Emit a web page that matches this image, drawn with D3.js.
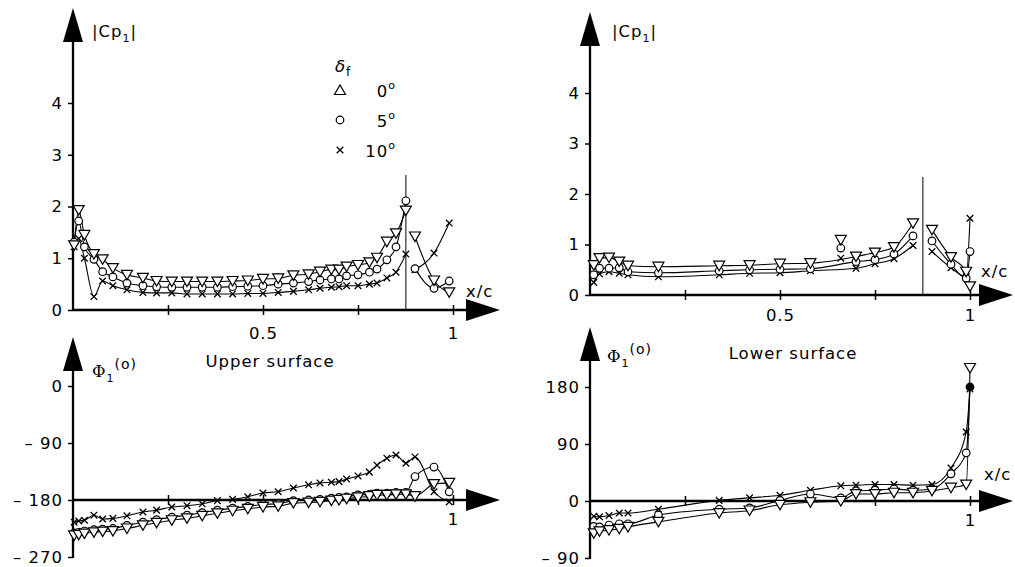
<!DOCTYPE html>
<html><head><meta charset="utf-8">
<script src="https://cdn.jsdelivr.net/npm/d3@7"></script>
<style>
body{margin:0;background:#fff}
svg{display:block}
text{font-family:"DejaVu Sans",sans-serif;font-size:16.5px;fill:#000;letter-spacing:1px}
</style></head><body>
<svg width="1015" height="567"></svg>
<script>
// chord stations (x/c), main airfoil + flap
const HINGE = 0.876;
const upperX = [0.003, 0.015, 0.03, 0.055, 0.078, 0.105, 0.142, 0.184, 0.22, 0.26, 0.30, 0.34, 0.38, 0.42, 0.46, 0.50,
  0.54, 0.58, 0.62, 0.65, 0.68, 0.70, 0.72, 0.75, 0.78, 0.80, 0.826, 0.85, 0.876, 0.90, 0.95, 0.99];
const lowerX = [0.01, 0.025, 0.05, 0.077, 0.10, 0.18, 0.34, 0.42, 0.50, 0.58, 0.66, 0.70, 0.75, 0.80, 0.85, 0.90, 0.95, 0.99, 1.0];

// |Cp1| upper surface, flap angle 0, 5, 10 deg
const cpUpper0 = [1.25, 1.93, 1.45, 1.08, 0.98, 0.81, 0.68, 0.62, 0.56, 0.55, 0.55, 0.55, 0.55, 0.56, 0.57, 0.60,
  0.61, 0.67, 0.69, 0.74, 0.78, 0.78, 0.84, 0.87, 0.92, 1.01, 1.32, 1.48, 1.92, 1.42, 0.57, 0.34];
const cpUpper5 = [1.31, 1.72, 1.22, 0.98, 0.74, 0.64, 0.52, 0.47, 0.45, 0.44, 0.44, 0.44, 0.44, 0.45, 0.46, 0.47,
  0.50, 0.52, 0.55, 0.58, 0.60, 0.60, 0.66, 0.68, 0.73, 0.79, 0.97, 1.22, 2.11, 0.80, 0.42, 0.56];
const cpUpper10 = [1.22, 1.38, 1.00, 0.26, 0.56, 0.47, 0.39, 0.34, 0.33, 0.33, 0.31, 0.31, 0.31, 0.31, 0.32, 0.32,
  0.34, 0.36, 0.39, 0.42, 0.44, 0.45, 0.47, 0.47, 0.50, 0.52, 0.62, 0.73, 1.08, 0.78, 1.10, 1.68];

// |Cp1| lower surface
const cpLower0 = [0.59, 0.73, 0.74, 0.66, 0.58, 0.56, 0.58, 0.59, 0.62, 0.63, 1.09, 0.76, 0.84, 0.95, 1.42, 1.29, 0.75, 0.46, 0.17];
const cpLower5 = [0.40, 0.53, 0.53, 0.54, 0.46, 0.44, 0.48, 0.50, 0.51, 0.52, 0.93, 0.66, 0.70, 0.81, 1.17, 1.07, 0.61, 0.33, 0.86];
const cpLower10 = [0.25, 0.42, 0.46, 0.43, 0.40, 0.36, 0.40, 0.43, 0.44, 0.48, 0.73, 0.53, 0.62, 0.72, 0.98, 0.86, 0.54, 0.36, 1.52];
const cpLowerOffCurve = [0.66];

// phase Phi1 (deg) upper surface
const phiUpper0 = [-236, -235, -233, -231, -230, -229, -225, -220, -216, -212, -209, -205, -201, -197, -194, -191,
  -190, -185, -184, -183, -181, -180, -178, -176, -174, -172, -172, -171, -171, -174, -155, -153];
const phiUpper5 = [-232, -231, -229, -227, -226, -225, -220, -215, -211, -207, -204, -200, -196, -193, -190, -187,
  -186, -181, -180, -179, -177, -176, -175, -172, -171, -169, -169, -168, -168, -143, -128, -167];
const phiUpper10 = [-215, -213, -212, -204, -210, -209, -205, -199, -196, -191, -189, -186, -181, -179, -175, -169,
  -167, -161, -156, -153, -152, -151, -147, -142, -136, -125, -114, -109, -122, -112, -167, -183];

// phase Phi1 (deg) lower surface
const phiLower0 = [-51, -48, -46, -44, -41, -33, -19, -15, -6, -2, 0, 11, 11, 13, 13, 16, 21, 26, 210];
const phiLower5 = [-40, -41, -38, -36, -36, -22, -13, -11, 1, 11, 5, 16, 17, 19, 17, 19, 43, 76, 180];
const phiLower10 = [-24, -25, -23, -19, -19, -13, 1, 5, 9, 17, 24, 25, 26, 26, 25, 26, 52, 109, 177];

const flapAngles = ['0', '5', '10'];
const xTicks = [0.25, 0.5, 0.75, 1];

const svg = d3.select('svg');

function drawMarker(g, kind, cx, cy, solid) {
  if (kind === 'circle') {
    g.append('circle').attr('cx', cx).attr('cy', cy).attr('r', 3.8)
      .attr('fill', solid ? '#000' : '#fff').attr('stroke', '#000').attr('stroke-width', 1.2);
  } else if (kind === 'cross') {
    g.append('path').attr('transform', `translate(${cx},${cy})`)
      .attr('d', 'M-3.3,-3.3L3.3,3.3M-3.3,3.3L3.3,-3.3').attr('stroke', '#000').attr('stroke-width', 1.3).attr('fill', 'none');
  } else {
    const d = kind === 'up' ? 'M-5.5,4.5L5.5,4.5L0,-5Z' : 'M-5.5,-4.5L5.5,-4.5L0,5Z';
    g.append('path').attr('transform', `translate(${cx},${cy})`).attr('d', d)
      .attr('fill', '#fff').attr('stroke', '#000').attr('stroke-width', 1.2);
  }
}

function drawPanel(p) {
  const x = d3.scaleLinear().domain([0, 1]).range([p.left, p.left + 380]);
  const y = d3.scaleLinear().domain(p.yDomain).range(p.yRange);
  const g = svg.append('g');
  const axisY = y(p.xAxisAt);

  // y ticks
  const yAxis = d3.axisLeft(y).tickValues(p.yTicks).tickSize(5).tickPadding(5).tickFormat(p.yFormat);
  const yg = g.append('g').attr('transform', `translate(${p.left},0)`).call(yAxis);
  yg.select('.domain').remove();
  yg.selectAll('.tick line').attr('stroke-width', 1.5);

  // x ticks
  const xAxis = d3.axisBottom(x).tickValues(xTicks).tickSize(5).tickPadding(p.xPad).tickFormat(p.xFormat);
  const xg = g.append('g').attr('transform', `translate(0,${axisY})`).call(xAxis);
  xg.select('.domain').remove();
  xg.selectAll('.tick line').attr('y1', -5).attr('y2', 5).attr('stroke-width', 1.5);

  // axis lines with arrowheads
  g.append('line').attr('x1', p.left).attr('x2', p.left)
    .attr('y1', y(p.yDomain[0]) + 1).attr('y2', p.tipY + 30)
    .attr('stroke', '#000').attr('stroke-width', 2.3);
  g.append('path').attr('d', `M${p.left - 10},${p.tipY + 34}L${p.left},${p.tipY}L${p.left + 10},${p.tipY + 34}Z`)
    .attr('fill', '#000');
  g.append('line').attr('x1', p.left).attr('x2', p.tipX - 30)
    .attr('y1', axisY).attr('y2', axisY).attr('stroke', '#000').attr('stroke-width', 2.3);
  g.append('path').attr('d', `M${p.tipX - 34},${axisY - 11}L${p.tipX},${axisY}L${p.tipX - 34},${axisY + 11}Z`)
    .attr('fill', '#000');

  if (p.hingeTop) {
    g.append('line').attr('x1', x(HINGE)).attr('x2', x(HINGE))
      .attr('y1', p.hingeTop).attr('y2', axisY).attr('stroke', '#000').attr('stroke-width', 1);
  }

  const line = d3.line().x(d => x(d.x)).y(d => y(d.v)).curve(d3.curveMonotoneX);
  const kinds = ['down', 'circle', 'cross'];
  p.series.forEach(vals => {
    const pts = p.stations.map((sx, i) => ({x: sx, v: vals[i]}));
    const onCurve = pts.filter(d => !(p.offCurve || []).includes(d.x));
    const parts = p.breakAtHinge
      ? [onCurve.filter(d => d.x <= HINGE), onCurve.filter(d => d.x > HINGE)]
      : [onCurve];
    parts.forEach(part => {
      g.append('path').attr('d', line(part))
        .attr('fill', 'none').attr('stroke', '#000').attr('stroke-width', 1.1);
    });
  });
  for (let si = p.series.length - 1; si >= 0; si--) {
    p.series[si].forEach((v, i) => {
      const solid = p.solidEnd && kinds[si] === 'circle' && p.stations[i] === 1.0;
      drawMarker(g, kinds[si], x(p.stations[i]), y(v), solid);
    });
  }
  return g;
}

function cpLabel(xp, yp) {
  const t = svg.append('text').attr('x', xp).attr('y', yp);
  t.append('tspan').text('|Cp');
  t.append('tspan').style('font-size', '11px').attr('dy', 5).text('1');
  t.append('tspan').attr('dy', -5).text('|');
}
function phiLabel(xp, yp) {
  const t = svg.append('text').attr('x', xp).attr('y', yp);
  t.append('tspan').style('font-family', 'DejaVu Serif').text('Φ');
  t.append('tspan').style('font-size', '11px').attr('dy', 5).text('1');
  t.append('tspan').style('font-size', '14px').attr('dy', -13).text('(o)');
}
function xcLabel(xp, yp) {
  svg.append('text').attr('x', xp).attr('y', yp).text('x/c');
}

const minus = d => d < 0 ? '\u2013 ' + (-d) : String(d);

drawPanel({
  left: 73, yDomain: [0, 4], yRange: [310, 103], xAxisAt: 0, tipY: 8, tipX: 500,
  yTicks: [0, 1, 2, 3, 4], yFormat: d => String(d), xPad: 12,
  xFormat: d => d === 0.5 ? '0.5' : d === 1 ? '1' : '', hingeTop: 175, breakAtHinge: true,
  stations: upperX, series: [cpUpper0, cpUpper5, cpUpper10]
});
drawPanel({
  left: 590, yDomain: [0, 4], yRange: [295, 93], xAxisAt: 0, tipY: 12, tipX: 1013,
  yTicks: [0, 1, 2, 3, 4], yFormat: d => String(d), xPad: 9,
  xFormat: d => d === 0.5 ? '0.5' : d === 1 ? '1' : '', hingeTop: 177, breakAtHinge: true,
  stations: lowerX, series: [cpLower0, cpLower5, cpLower10], offCurve: cpLowerOffCurve
});
drawPanel({
  left: 73, yDomain: [-270, 0], yRange: [557, 386], xAxisAt: -180, tipY: 337, tipX: 500,
  yTicks: [0, -90, -180, -270], yFormat: minus, xPad: 8,
  xFormat: d => d === 1 ? '1' : '',
  stations: upperX, series: [phiUpper0, phiUpper5, phiUpper10]
});
drawPanel({
  left: 590, yDomain: [-90, 180], yRange: [558, 387], xAxisAt: 0, tipY: 327, tipX: 1013,
  yTicks: [180, 90, 0, -90], yFormat: minus, xPad: 8,
  xFormat: d => d === 1 ? '1' : '', solidEnd: true,
  stations: lowerX, series: [phiLower0, phiLower5, phiLower10]
});

cpLabel(92, 37);
cpLabel(612, 37);
phiLabel(92, 377);
phiLabel(607, 362);
xcLabel(466, 297);
xcLabel(981, 277);
xcLabel(984, 480);
svg.append('text').attr('x', 270).attr('y', 367).attr('text-anchor', 'middle').text('Upper surface');
svg.append('text').attr('x', 793).attr('y', 359).attr('text-anchor', 'middle').text('Lower surface');

// legend
const lg = svg.append('g');
const dl = lg.append('text').attr('x', 335).attr('y', 72);
dl.append('tspan').style('font-style', 'italic').text('δ');
dl.append('tspan').style('font-size', '12px').attr('dy', 4).text('f');
const legendKinds = ['up', 'circle', 'cross'];
flapAngles.forEach((a, i) => {
  const cy = 90 + i * 30;
  drawMarker(lg, legendKinds[i], 340, cy, false);
  const t = lg.append('text').attr('x', 396).attr('y', cy + 7).attr('text-anchor', 'end');
  t.append('tspan').text(a);
  t.append('tspan').style('font-size', '11px').attr('dy', -8).text('o');
});
</script>
</body></html>
